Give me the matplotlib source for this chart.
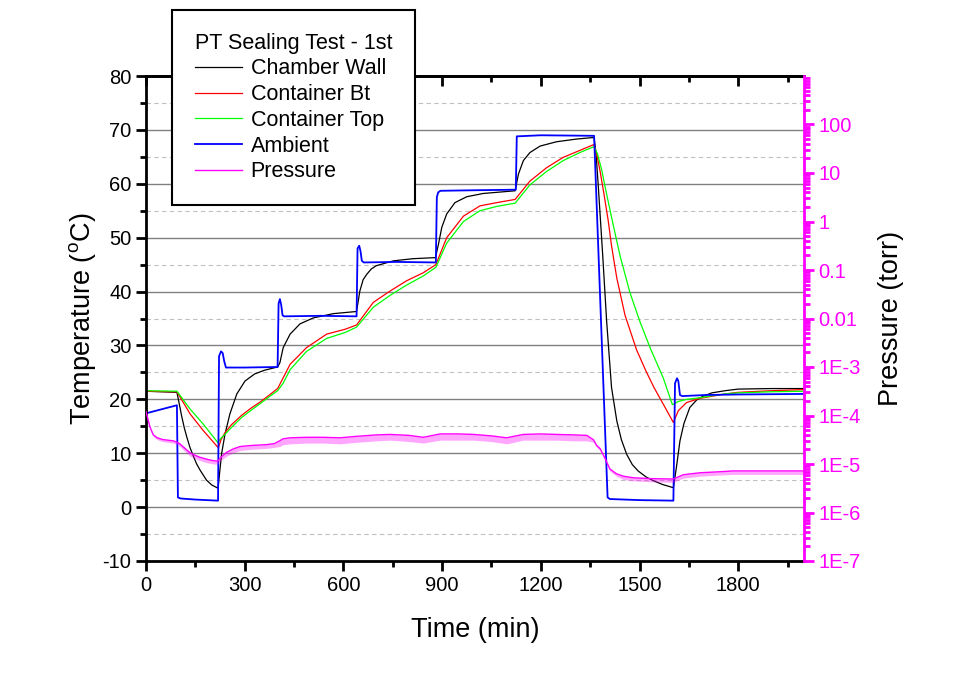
import matplotlib
matplotlib.use("Agg")
import matplotlib.pyplot as plt
from matplotlib.ticker import MultipleLocator, FixedLocator, FixedFormatter, LogLocator, NullFormatter

plt.rcParams["font.family"] = ["Liberation Sans", "DejaVu Sans"]
plt.rcParams["mathtext.fontset"] = "custom"
plt.rcParams["mathtext.rm"] = "Liberation Sans"
plt.rcParams["axes.unicode_minus"] = False

# time in min, temperature in degC
wall_t = [0, 94, 100, 108, 116, 124, 134, 145, 154, 165, 184, 200, 219, 224, 230, 240, 255, 276, 301, 330, 360, 400,
          407, 417, 438, 468, 508, 569, 640, 650, 660, 671, 685, 700, 752, 812, 880, 889, 899, 914, 939, 975, 1025,
          1122, 1132, 1147, 1167, 1198, 1248, 1309, 1362, 1368, 1375, 1388, 1400, 1415, 1431, 1445, 1461, 1478, 1496,
          1520, 1542, 1570, 1603, 1612, 1623, 1635, 1653, 1674, 1694, 1720, 1760, 1800, 1900, 2000]
wall_T = [21.5, 21.3, 19.5, 17.0, 14.8, 13.0, 11.0, 9.3, 8.0, 6.8, 5.0, 4.1, 3.5, 6.5, 10.0, 13.5, 17.3, 21.0, 23.4,
          24.7, 25.4, 26.0, 26.8, 29.6, 32.1, 34.0, 35.1, 35.9, 36.3, 40.1, 42.2, 43.2, 44.2, 44.8, 45.7, 46.1, 46.3,
          48.8, 51.9, 54.4, 56.5, 57.6, 58.2, 58.7, 61.8, 64.3, 65.8, 67.0, 67.8, 68.3, 68.6, 65.5, 59.3, 46.9, 34.6,
          22.2, 16.0, 12.5, 9.8, 7.9, 6.7, 5.6, 4.9, 4.2, 3.6, 7.3, 12.3, 15.5, 18.5, 19.9, 20.6, 21.2, 21.6, 21.9,
          22.0, 22.0]

bt_t = [0, 94, 134, 174, 220, 228, 240, 260, 290, 320, 347, 375, 400, 412, 438, 488, 549, 605, 640, 691, 742, 792,
        843, 881, 914, 965, 1015, 1066, 1122, 1167, 1218, 1268, 1319, 1362, 1370, 1380, 1392, 1405, 1415, 1431, 1456,
        1491, 1520, 1544, 1575, 1603, 1618, 1643, 1684, 1714, 1760, 1800, 1900, 2000]
bt_T = [21.5, 21.4, 17.3, 14.2, 11.0, 12.5, 13.8, 15.3, 17.0, 18.4, 19.5, 20.8, 22.0, 23.4, 26.5, 29.6, 32.1, 33.0,
        33.8, 38.0, 40.1, 42.0, 43.5, 45.0, 50.0, 54.0, 55.9, 56.5, 57.1, 60.5, 63.0, 64.9, 66.2, 67.3, 65.5, 62.4,
        58.1, 53.1, 48.5, 42.5, 35.6, 29.2, 25.2, 22.2, 18.8, 15.7, 17.9, 19.4, 20.2, 20.5, 21.0, 21.3, 21.6, 21.8]

top_t = [0, 94, 134, 174, 218, 228, 240, 260, 290, 320, 347, 375, 400, 417, 438, 488, 549, 605, 640, 691, 742, 792,
         843, 881, 914, 965, 1015, 1066, 1122, 1167, 1218, 1268, 1319, 1362, 1372, 1385, 1400, 1420, 1441, 1471, 1502,
         1532, 1572, 1600, 1618, 1643, 1684, 1714, 1760, 1800, 1900, 2000]
top_T = [21.6, 21.5, 18.2, 15.4, 12.0, 12.8, 13.5, 14.8, 16.6, 18.0, 19.2, 20.5, 21.6, 23.0, 25.5, 28.9, 31.3, 32.4,
         33.4, 37.1, 39.3, 41.2, 42.9, 44.5, 49.0, 53.0, 55.0, 55.8, 56.4, 59.8, 62.3, 64.3, 65.8, 66.9, 65.6, 62.6,
         58.1, 52.4, 46.6, 39.8, 34.3, 29.6, 24.0, 19.0, 19.6, 20.0, 20.3, 20.6, 21.0, 21.2, 21.4, 21.5]

amb_t = [0, 94, 97, 105, 150, 219, 222, 228, 233, 238, 243, 300, 400, 403, 407, 411, 415, 420, 530, 640, 643, 648,
         652, 656, 662, 760, 881, 884, 888, 895, 1000, 1124, 1127, 1200, 1362, 1403, 1410, 1500, 1603, 1608, 1614,
         1618, 1623, 1630, 1700, 1800, 2000]
amb_T = [17.4, 18.9, 1.8, 1.6, 1.4, 1.2, 28.0, 28.9, 28.6, 27.0, 25.9, 25.9, 26.0, 37.8, 38.6, 37.5, 35.6, 35.4,
         35.5, 35.4, 48.0, 48.5, 47.5, 45.7, 45.4, 45.5, 45.4, 57.5, 58.4, 58.7, 58.8, 58.9, 68.8, 69.0, 68.9, 1.8,
         1.5, 1.3, 1.2, 23.0, 23.9, 23.4, 20.8, 20.6, 20.8, 20.9, 21.0]

# pressure (torr) and the low edge of its noise band
pres_t = [0, 5, 12, 22, 33, 50, 83, 95, 103, 115, 134, 160, 184, 205, 218, 228, 245, 265, 286, 316, 367, 390, 407,
          417, 438, 488, 540, 590, 640, 700, 742, 800, 843, 894, 950, 995, 1050, 1096, 1147, 1200, 1248, 1300, 1340,
          1360, 1370, 1380, 1395, 1410, 1430, 1451, 1481, 1532, 1603, 1620, 1633, 1684, 1740, 1785, 1886, 2000]
pres = [1.2e-4, 8.9e-5, 5.8e-5, 4.0e-5, 3.5e-5, 3.2e-5, 3.0e-5, 2.8e-5, 2.6e-5, 2.2e-5, 1.7e-5, 1.4e-5, 1.26e-5,
        1.17e-5, 1.15e-5, 1.38e-5, 1.74e-5, 2.04e-5, 2.29e-5, 2.40e-5, 2.51e-5, 2.63e-5, 3.02e-5, 3.31e-5, 3.47e-5,
        3.55e-5, 3.55e-5, 3.47e-5, 3.72e-5, 3.98e-5, 4.07e-5, 3.89e-5, 3.55e-5, 4.17e-5, 4.17e-5, 4.07e-5, 3.80e-5,
        3.47e-5, 4.07e-5, 4.17e-5, 4.07e-5, 3.98e-5, 3.89e-5, 3.16e-5, 2.40e-5, 2.09e-5, 1.32e-5, 7.9e-6, 6.3e-6,
        5.6e-6, 5.2e-6, 5.0e-6, 4.9e-6, 5.5e-6, 6.0e-6, 6.6e-6, 6.9e-6, 7.2e-6, 7.2e-6, 7.2e-6]
pres_lo = [1.15e-4, 8.5e-5, 5.4e-5, 3.7e-5, 3.2e-5, 2.9e-5, 2.7e-5, 2.5e-5, 2.3e-5, 1.9e-5, 1.45e-5, 1.2e-5,
           1.07e-5, 1.0e-5, 1.0e-5, 1.2e-5, 1.45e-5, 1.7e-5, 1.9e-5, 2.0e-5, 2.1e-5, 2.2e-5, 2.3e-5, 2.5e-5, 2.6e-5,
           2.7e-5, 2.7e-5, 2.6e-5, 2.8e-5, 3.0e-5, 3.1e-5, 2.9e-5, 2.7e-5, 3.1e-5, 3.1e-5, 3.1e-5, 2.9e-5, 2.6e-5,
           3.1e-5, 3.1e-5, 3.1e-5, 3.0e-5, 3.0e-5, 2.8e-5, 2.2e-5, 1.9e-5, 1.2e-5, 7.1e-6, 5.6e-6, 4.8e-6, 4.5e-6,
           4.3e-6, 4.2e-6, 4.7e-6, 5.1e-6, 5.6e-6, 5.9e-6, 6.1e-6, 6.1e-6, 6.1e-6]

pres_ticks = [1e-7, 1e-6, 1e-5, 1e-4, 1e-3, 1e-2, 1e-1, 1, 10, 100]
pres_labels = ["1E-7", "1E-6", "1E-5", "1E-4", "1E-3", "0.01", "0.1", "1", "10", "100"]

MAG = "#ff00ff"

fig = plt.figure(figsize=(9.58, 6.73), dpi=100)
ax = fig.add_axes([146 / 958, 1 - 561 / 673, 658 / 958, 485 / 673])
ax2 = ax.twinx()

ax.plot(wall_t, wall_T, color="black", lw=0.9, label="Chamber Wall")
ax.plot(bt_t, bt_T, color="#ff0000", lw=0.9, label="Container Bt")
ax.plot(top_t, top_T, color="#00ff00", lw=0.9, label="Container Top")
ax.plot(amb_t, amb_T, color="#0000ff", lw=1.3, label="Ambient")
ax2.fill_between(pres_t, pres_lo, pres, color=MAG, alpha=0.35, lw=0)
ax2.plot(pres_t, pres, color=MAG, lw=1.0, label="Pressure")

ax.set_xlim(0, 2000)
ax.set_ylim(-10, 80)
ax.xaxis.set_major_locator(MultipleLocator(300))
ax.xaxis.set_minor_locator(MultipleLocator(150))
ax.yaxis.set_major_locator(MultipleLocator(10))
ax.yaxis.set_minor_locator(MultipleLocator(5))
ax.set_axisbelow(True)
ax.yaxis.grid(True, which="major", color="#808080", lw=1.0)
ax.yaxis.grid(True, which="minor", color="#c0c0c0", lw=0.8, ls=(0, (4, 3)))
ax.tick_params(axis="both", which="both", direction="out", width=2, labelsize=14.5, right=False)
ax.tick_params(which="major", length=7)
ax.tick_params(which="minor", length=4)
for s in ["left", "bottom", "top"]:
    ax.spines[s].set_linewidth(2)
ax.spines["right"].set_visible(False)

top = ax.secondary_xaxis("top")
top.xaxis.set_major_locator(MultipleLocator(300))
top.xaxis.set_minor_locator(MultipleLocator(150))
top.tick_params(axis="x", which="both", direction="in", width=2, labeltop=False)
top.tick_params(which="major", length=7)
top.tick_params(which="minor", length=4)
top.spines["top"].set_linewidth(2)

ax2.set_yscale("log")
ax2.set_ylim(1e-7, 1e3)
ax2.yaxis.set_major_locator(FixedLocator(pres_ticks))
ax2.yaxis.set_major_formatter(FixedFormatter(pres_labels))
ax2.yaxis.set_minor_locator(LogLocator(base=10, subs=range(2, 10), numticks=20))
ax2.yaxis.set_minor_formatter(NullFormatter())
ax2.tick_params(axis="y", which="both", direction="out", width=2, colors=MAG, labelsize=14.5)
ax2.tick_params(axis="y", which="major", length=7)
ax2.tick_params(axis="y", which="minor", length=4)
ax2.spines["right"].set_color(MAG)
ax2.spines["right"].set_linewidth(2)
for s in ["left", "top", "bottom"]:
    ax2.spines[s].set_visible(False)

ax.set_xlabel("Time (min)", fontsize=19.5, labelpad=16)
ax.set_ylabel("Temperature ($^{\\mathrm{o}}$C)", fontsize=19.5, labelpad=3)
ax2.set_ylabel("Pressure (torr)", fontsize=19.5, labelpad=12)

handles = ax.get_lines() + ax2.get_lines()
leg = fig.legend(handles=handles, labels=[h.get_label() for h in handles],
                 title="PT Sealing Test - 1st", loc="upper left",
                 bbox_to_anchor=(172 / 958, 1 - 10 / 673), borderaxespad=0,
                 fontsize=15.5, title_fontsize=15.5, alignment="left",
                 frameon=True, fancybox=False, edgecolor="black", framealpha=1,
                 handlelength=2.2, handletextpad=0.4, labelspacing=0.22, borderpad=1.05)
leg.get_frame().set_linewidth(1.5)

fig.savefig("out.png", dpi=100)
